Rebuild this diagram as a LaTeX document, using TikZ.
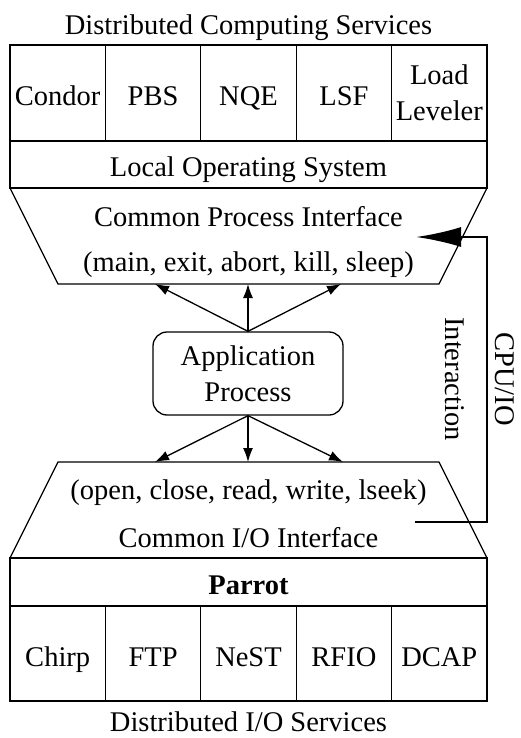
\documentclass[tikz,border=0pt]{standalone}
\usepackage{fontspec}
\setmainfont{Liberation Serif}
\usetikzlibrary{arrows.meta}
\tikzset{
    >={Latex[length=14pt,width=10pt]}, % Default arrow tip
    box/.style={draw, minimum width=95.4pt, minimum height=96pt, inner sep=0pt, align=center},
    cell/.style={box, text height=25pt, text depth=0pt},
    band/.style={draw, minimum width=477pt, inner sep=0pt, text height=25pt, text depth=0pt},
    vtext/.style={rotate=-90, inner sep=0pt},
    heading/.style={anchor=base, inner sep=0pt}
}
\def\mid{248.5}

\begin{document}
\begin{tikzpicture}[x=1pt, y=-1pt, line width=1.3pt, font=\fontsize{28.5}{36}\selectfont]
    \useasboundingbox (0,0) rectangle (520,738);

    % distributed computing side
    \draw
        node [heading] (cpu-title) at (\mid, 35) {Distributed Computing Services}
        node [cell] (condor) at (57.7, 93) {Condor}
        node [cell] (pbs) at (153.1, 93) {PBS}
        node [cell] (nqe) at (248.5, 93) {NQE}
        node [cell] (lsf) at (343.9, 93) {LSF}
        node [box] (loadlev) at (439.3, 93) {Load\\Leveler}
        node [band, minimum height=47pt] (localos) at (\mid, 164.5) {Local Operating System}
    ;
    \coordinate (cpi-tl) at (10, 188);
    \coordinate (cpi-tr) at (487, 188);
    \coordinate (cpi-bl) at (58, 284);
    \coordinate (cpi-br) at (439, 284);
    \draw (cpi-tl) -- (cpi-bl) -- (cpi-br) -- (cpi-tr);
    \draw
        node (cpi) at (\mid, 217) {Common Process Interface}
        node (cpi-calls) at (\mid, 265) {(main, exit, abort, kill, sleep)}
    ;

    % application
    \node [draw, rounded corners=14pt, minimum width=190pt, minimum height=83pt,
        align=center, inner sep=0pt] (app) at (248, 373.5) {Application\\Process};
    \coordinate (cpi-a) at (155, 284);
    \coordinate (cpi-b) at (248, 284);
    \coordinate (cpi-c) at (341, 284);
    \coordinate (cio-a) at (155, 462);
    \coordinate (cio-b) at (248, 462);
    \coordinate (cio-c) at (343, 462);
    \draw
        (app.north)
        edge [->] (cpi-a)
        edge [->] (cpi-b)
        edge [->] (cpi-c)
    ;
    \draw
        (app.south)
        edge [->] (cio-a)
        edge [->] (cio-b)
        edge [->] (cio-c)
    ;

    % distributed i/o side
    \coordinate (cio-tl) at (58, 462);
    \coordinate (cio-tr) at (439, 462);
    \coordinate (cio-bl) at (10, 558);
    \coordinate (cio-br) at (487, 558);
    \draw (cio-bl) -- (cio-tl) -- (cio-tr) -- (cio-br);
    \draw
        node (cio-calls) at (\mid, 493) {(open, close, read, write, lseek)}
        node (cio) at (\mid, 538) {Common I/O Interface}
        node [band, minimum height=48pt] (parrot) at (\mid, 582) {\textbf{Parrot}}
        node [cell, minimum height=95pt] (chirp) at (57.7, 653.5) {Chirp}
        node [cell, minimum height=95pt] (ftp) at (153.1, 653.5) {FTP}
        node [cell, minimum height=95pt] (nest) at (248.5, 653.5) {NeST}
        node [cell, minimum height=95pt] (rfio) at (343.9, 653.5) {RFIO}
        node [cell, minimum height=95pt] (dcap) at (439.3, 653.5) {DCAP}
        node [heading] (io-title) at (\mid, 731) {Distributed I/O Services}
    ;

    % cpu/io interaction
    \coordinate (fb-start) at (415, 522);
    \coordinate (fb-corner) at (487, 237);
    \coordinate (fb-end) at (416, 237);
    \draw
        [line width=2.5pt, -{Latex[length=45pt,width=20pt]}]
        (fb-start) -| (fb-corner) -- (fb-end)
    ;
    \draw
        node [vtext] (cpuio) at (505, 379) {CPU/IO}
        node [vtext] (interaction) at (455, 379) {Interaction}
    ;
\end{tikzpicture}
\end{document}
